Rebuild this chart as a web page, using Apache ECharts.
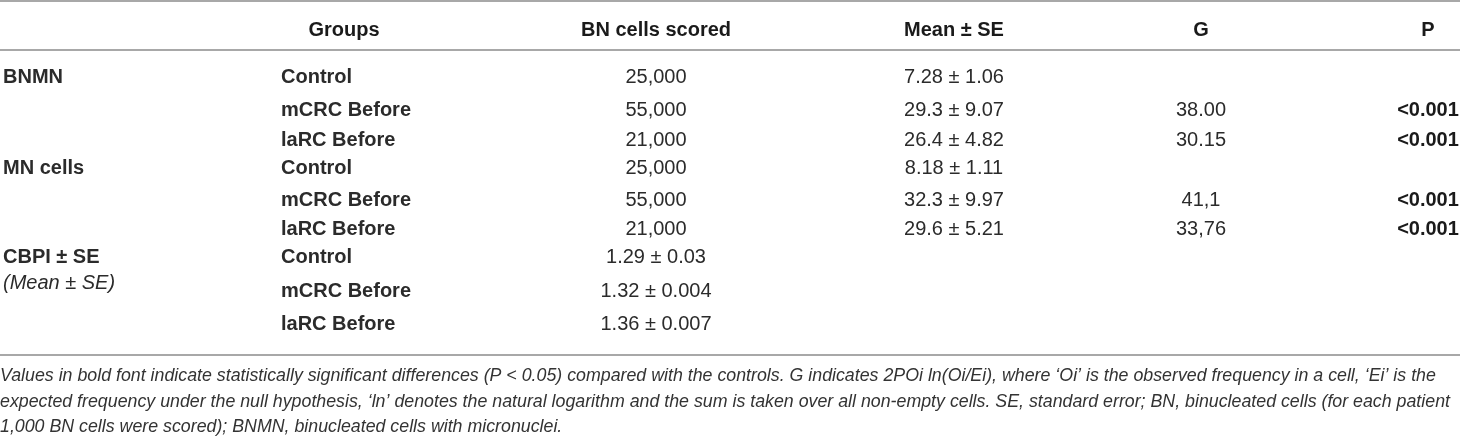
<!DOCTYPE html>
<html>
<head>
<meta charset="utf-8">
<title>BN cells table</title>
<script src="https://cdn.jsdelivr.net/npm/echarts@6.0.0/dist/echarts.min.js"></script>
<style>
  html, body { margin: 0; padding: 0; background: #fff; }
  #main { width: 1460px; height: 438px; }
</style>
</head>
<body>
<div id="main"></div>
<script>
// table content
var columns = [' ', 'Groups', 'BN cells scored', 'Mean ± SE', 'G', 'P'];
var measures = ['BNMN', 'MN cells', 'CBPI ± SE'];
var measureNote = '(Mean ± SE)';
var groups = ['Control', 'mCRC Before', 'laRC Before'];
var bnCellsScored = ['25,000', '55,000', '21,000', '25,000', '55,000', '21,000', '1.29 ± 0.03', '1.32 ± 0.004', '1.36 ± 0.007'];
var meanSE = ['7.28 ± 1.06', '29.3 ± 9.07', '26.4 ± 4.82', '8.18 ± 1.11', '32.3 ± 9.97', '29.6 ± 5.21', '', '', ''];
var gValues = ['', '38.00', '30.15', '', '41,1', '33,76', '', '', ''];
var pValues = ['', '<0.001', '<0.001', '', '<0.001', '<0.001', '', '', ''];
var footnote = [
  'Values in bold font indicate statistically significant differences (P < 0.05) compared with the controls. G indicates 2POi ln(Oi/Ei), where \u2018Oi\u2019 is the observed frequency in a cell, \u2018Ei\u2019 is the',
  'expected frequency under the null hypothesis, \u2018ln\u2019 denotes the natural logarithm and the sum is taken over all non-empty cells. SE, standard error; BN, binucleated cells (for each patient',
  '1,000 BN cells were scored); BNMN, binucleated cells with micronuclei.'
];

// layout (sizes only)
var colWidths = [278, 132, 492, 104, 390, 64];
var rowHeights = [31, 35, 26, 30, 33, 26, 29, 40, 26];
var FONT = 'Liberation Sans';

var chart = echarts.init(document.getElementById('main'));

var rowIds = rowHeights.map(function (h, i) { return 'r' + (i + 1); });

var cells = [];
rowIds.forEach(function (rid, i) {
  var g = i % 3;
  if (g === 0) {
    cells.push({ coord: [columns[0], rid], value: measures[i / 3], label: { position: 'insideLeft', fontWeight: 'bold' } });
  }
  if (i === 7) {
    // note sits just under the CBPI label
    cells.push({ coord: [columns[0], rid], value: measureNote, label: { position: 'insideTopLeft', distance: 0, fontStyle: 'italic' } });
  }
  cells.push({ coord: [columns[1], rid], value: groups[g], label: { position: 'insideLeft', fontWeight: 'bold' } });
  cells.push({ coord: [columns[2], rid], value: bnCellsScored[i] });
  cells.push({ coord: [columns[3], rid], value: meanSE[i] });
  cells.push({ coord: [columns[4], rid], value: gValues[i] });
  cells.push({ coord: [columns[5], rid], value: pValues[i], label: { fontWeight: 'bold', color: '#1a1a1a' } });
});

var noBorder = { color: 'transparent', borderWidth: 0, borderColor: 'transparent' };

var option = {
  animation: false,
  backgroundColor: '#fff',
  title: {
    text: footnote.join('\n'),
    left: 0,
    top: 363,
    padding: 0,
    textStyle: {
      fontFamily: FONT,
      fontStyle: 'italic',
      fontWeight: 'normal',
      fontSize: 17.8,
      lineHeight: 25.8,
      color: '#333'
    }
  },
  matrix: {
    left: 0,
    top: 0,
    width: 1460,
    height: 357.5,
    backgroundStyle: noBorder,
    x: {
      show: true,
      levelSize: 61.5,
      data: columns.map(function (c, i) { return { value: c, size: colWidths[i] }; }),
      itemStyle: noBorder,
      dividerLineStyle: { width: 0, color: 'transparent' },
      label: {
        fontFamily: FONT,
        fontWeight: 'bold',
        fontSize: 20,
        color: '#1a1a1a',
        padding: [0, 0, 9, 0],
        overflow: 'none',
        lineOverflow: 'none'
      }
    },
    y: {
      show: false,
      data: rowIds.map(function (r, i) { return { value: r, size: rowHeights[i] }; }),
      itemStyle: noBorder,
      dividerLineStyle: { width: 0, color: 'transparent' }
    },
    corner: { itemStyle: noBorder },
    body: {
      data: cells,
      itemStyle: noBorder,
      label: {
        fontFamily: FONT,
        fontSize: 20,
        color: '#2b2b2b',
        overflow: 'none',
        lineOverflow: 'none'
      }
    }
  },
  graphic: [
    { type: 'line', shape: { x1: 0, y1: 1, x2: 1460, y2: 1 }, style: { stroke: '#a8a8a8', lineWidth: 2 } },
    { type: 'line', shape: { x1: 0, y1: 50, x2: 1460, y2: 50 }, style: { stroke: '#a8a8a8', lineWidth: 2 } },
    { type: 'line', shape: { x1: 0, y1: 355, x2: 1460, y2: 355 }, style: { stroke: '#a8a8a8', lineWidth: 2 } }
  ]
};

chart.setOption(option);
</script>
</body>
</html>
